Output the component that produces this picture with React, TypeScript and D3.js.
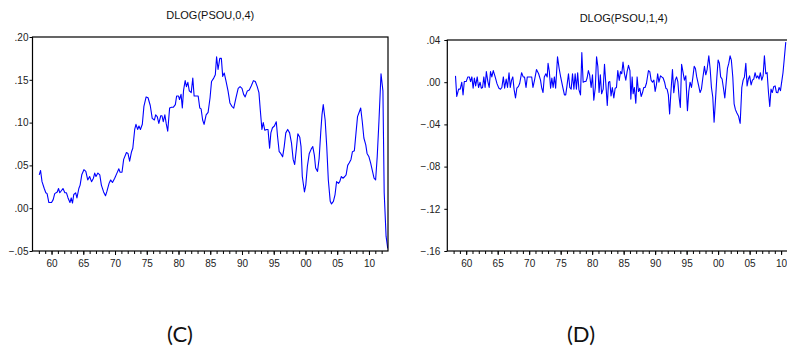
import React, { useEffect, useRef } from 'react';
import * as d3 from 'd3';

// DLOG(PSOU,0,4) (decimal year, value)
const leftYears = [
  1958.06, 1958.27, 1958.5, 1958.85, 1959.1, 1959.3, 1959.58, 1960.0, 1960.26, 1960.5,
  1960.9, 1961.1, 1961.3, 1961.6, 1961.8, 1962.1, 1962.35, 1962.6, 1962.9, 1963.1,
  1963.3, 1963.5, 1963.8, 1964.0, 1964.3, 1964.5, 1964.76, 1965.1, 1965.4, 1965.7,
  1966.0, 1966.3, 1966.6, 1966.8, 1967.0, 1967.3, 1967.6, 1967.85, 1968.2, 1968.5,
  1968.7, 1969.06, 1969.3, 1969.6, 1969.95, 1970.3, 1970.6, 1970.8, 1971.1, 1971.36,
  1971.8, 1972.04, 1972.3, 1972.6, 1972.8, 1973.1, 1973.3, 1973.56, 1973.77, 1974.0,
  1974.3, 1974.55, 1974.9, 1975.2, 1975.55, 1975.86, 1976.2, 1976.4, 1976.65, 1976.9,
  1977.2, 1977.4, 1977.6, 1977.85, 1978.06, 1978.3, 1978.6, 1978.9, 1979.2, 1979.5,
  1979.7, 1980.0, 1980.16, 1980.4, 1980.6, 1980.8, 1981.05, 1981.25, 1981.47, 1981.7,
  1982.0, 1982.25, 1982.46, 1982.8, 1983.1, 1983.35, 1983.56, 1983.8, 1984.03, 1984.35,
  1984.66, 1984.97, 1985.2, 1985.55, 1985.8, 1986.0, 1986.23, 1986.5, 1986.75, 1986.96,
  1987.2, 1987.5, 1987.8, 1988.1, 1988.4, 1988.7, 1989.05, 1989.4, 1989.7, 1990.0,
  1990.26, 1990.5, 1990.84, 1991.15, 1991.47, 1991.8, 1992.1, 1992.4, 1992.67, 1992.88,
  1993.14, 1993.35, 1993.6, 1993.9, 1994.1, 1994.35, 1994.55, 1994.8, 1995.1, 1995.4,
  1995.6, 1995.86, 1996.1, 1996.4, 1996.65, 1996.9, 1997.2, 1997.5, 1997.8, 1998.06,
  1998.3, 1998.6, 1998.8, 1999.1, 1999.3, 1999.5, 1999.84, 2000.05, 2000.3, 2000.6,
  2000.9, 2001.15, 2001.4, 2001.6, 2001.9, 2002.15, 2002.4, 2002.6, 2002.8, 2003.1,
  2003.35, 2003.6, 2003.9, 2004.1, 2004.4, 2004.66, 2004.9, 2005.2, 2005.4, 2005.65,
  2005.9, 2006.2, 2006.4, 2006.65, 2006.9, 2007.17, 2007.4, 2007.7, 2007.96, 2008.2,
  2008.4, 2008.7, 2008.95, 2009.2, 2009.5, 2009.7, 2010.0, 2010.26, 2010.5, 2010.8,
  2011.05, 2011.3, 2011.57, 2011.9, 2012.2, 2012.4, 2012.7, 2012.96
];
const leftValues = [
  0.039, 0.044, 0.031, 0.023, 0.018, 0.017, 0.0066, 0.0066, 0.010, 0.017,
  0.019, 0.023, 0.018, 0.021, 0.023, 0.018, 0.018, 0.012, 0.0066, 0.012,
  0.006, 0.016, 0.018, 0.012, 0.023, 0.027, 0.039, 0.045, 0.043, 0.033,
  0.037, 0.031, 0.035, 0.041, 0.037, 0.041, 0.039, 0.027, 0.019, 0.0145,
  0.019, 0.029, 0.033, 0.030, 0.035, 0.041, 0.046, 0.042, 0.042, 0.057,
  0.065, 0.064, 0.055, 0.066, 0.070, 0.092, 0.098, 0.092, 0.096, 0.092,
  0.098, 0.119, 0.130, 0.129, 0.120, 0.105, 0.103, 0.109, 0.107, 0.099,
  0.108, 0.108, 0.101, 0.109, 0.099, 0.090, 0.117, 0.118, 0.118, 0.121,
  0.131, 0.131, 0.127, 0.133, 0.117, 0.138, 0.149, 0.142, 0.147, 0.137,
  0.135, 0.152, 0.131, 0.131, 0.131, 0.117, 0.116, 0.103, 0.098, 0.109,
  0.112, 0.129, 0.148, 0.152, 0.156, 0.177, 0.162, 0.175, 0.175, 0.154,
  0.158, 0.148, 0.137, 0.123, 0.119, 0.117, 0.129, 0.140, 0.142, 0.140,
  0.133, 0.130, 0.137, 0.138, 0.143, 0.149, 0.148, 0.142, 0.135, 0.115,
  0.092, 0.100, 0.091, 0.092, 0.092, 0.070, 0.088, 0.094, 0.096, 0.101,
  0.084, 0.066, 0.064, 0.060, 0.072, 0.088, 0.092, 0.088, 0.076, 0.057,
  0.051, 0.072, 0.087, 0.083, 0.072, 0.037, 0.019, 0.027, 0.049, 0.064,
  0.069, 0.072, 0.062, 0.047, 0.043, 0.058, 0.088, 0.109, 0.121, 0.103,
  0.072, 0.033, 0.008, 0.005, 0.008, 0.016, 0.031, 0.029, 0.031, 0.037,
  0.035, 0.037, 0.039, 0.050, 0.053, 0.057, 0.066, 0.067, 0.088, 0.107,
  0.111, 0.117, 0.101, 0.082, 0.074, 0.064, 0.060, 0.053, 0.045, 0.035,
  0.033, 0.060, 0.101, 0.157, 0.137, 0.018, -0.033, -0.047
];

// DLOG(PSOU,1,4) (cropped at the page edge)
const rightYears = [
  1958.3, 1958.5, 1958.8, 1959.05, 1959.3, 1959.5, 1959.7, 1960.0, 1960.26, 1960.5,
  1960.7, 1960.9, 1961.1, 1961.3, 1961.5, 1961.75, 1961.96, 1962.2, 1962.4, 1962.6,
  1962.8, 1963.0, 1963.2, 1963.44, 1963.65, 1963.86, 1964.07, 1964.3, 1964.6, 1964.9,
  1965.2, 1965.45, 1965.66, 1965.9, 1966.1, 1966.35, 1966.56, 1966.8, 1967.0, 1967.2,
  1967.4, 1967.6, 1967.83, 1968.04, 1968.3, 1968.5, 1968.8, 1969.05, 1969.26, 1969.5,
  1969.7, 1969.95, 1970.16, 1970.4, 1970.6, 1970.85, 1971.16, 1971.5, 1971.8, 1972.0,
  1972.2, 1972.4, 1972.65, 1972.86, 1973.0, 1973.2, 1973.4, 1973.6, 1973.8, 1974.0,
  1974.2, 1974.5, 1974.76, 1975.03, 1975.34, 1975.6, 1975.8, 1976.0, 1976.24, 1976.45,
  1976.67, 1976.88, 1977.1, 1977.3, 1977.5, 1977.7, 1977.9, 1978.15, 1978.36, 1978.57,
  1978.8, 1979.0, 1979.2, 1979.4, 1979.6, 1979.84, 1980.05, 1980.26, 1980.5, 1980.7,
  1980.9, 1981.1, 1981.3, 1981.5, 1981.75, 1981.96, 1982.2, 1982.4, 1982.6, 1982.8,
  1983.0, 1983.2, 1983.44, 1983.65, 1983.86, 1984.07, 1984.3, 1984.5, 1984.7, 1984.9,
  1985.13, 1985.34, 1985.55, 1985.77, 1986.0, 1986.14, 1986.35, 1986.5, 1986.7, 1986.93,
  1987.14, 1987.35, 1987.56, 1987.78, 1988.0, 1988.2, 1988.4, 1988.62, 1988.94, 1989.15,
  1989.36, 1989.58, 1989.8, 1990.0, 1990.2, 1990.4, 1990.6, 1990.85, 1991.05, 1991.27,
  1991.5, 1991.7, 1991.9, 1992.1, 1992.3, 1992.5, 1992.75, 1992.96, 1993.2, 1993.4,
  1993.6, 1993.8, 1994.0, 1994.2, 1994.44, 1994.65, 1994.87, 1995.13, 1995.34, 1995.55,
  1995.77, 1996.0, 1996.2, 1996.4, 1996.6, 1996.88, 1997.14, 1997.35, 1997.57, 1997.83,
  1998.04, 1998.25, 1998.52, 1998.73, 1998.94, 1999.15, 1999.36, 1999.58, 1999.8, 2000.0,
  2000.2, 2000.4, 2000.63, 2000.85, 2001.06, 2001.27, 2001.48, 2001.7, 2001.9, 2002.1,
  2002.33, 2002.54, 2002.75, 2002.96, 2003.23, 2003.5, 2003.76, 2003.97, 2004.18, 2004.4,
  2004.6, 2004.8, 2005.0, 2005.24, 2005.45, 2005.66, 2005.87, 2006.08, 2006.3, 2006.5,
  2006.7, 2006.93, 2007.14, 2007.35, 2007.57, 2007.78, 2008.0, 2008.2, 2008.4, 2008.6,
  2008.84, 2009.05, 2009.26, 2009.47, 2009.68, 2009.9, 2010.1, 2010.3, 2010.5, 2010.74
];
const rightValues = [
  0.006, -0.0135, -0.0066, -0.0066, 0, -0.012, 0.0006, 0.0006, 0.005, 0.005,
  0.0006, 0.005, -0.0057, 0.004, -0.0035, 0.005, -0.005, 0, -0.0057, -0.005,
  0.005, -0.005, 0.010, 0.0006, -0.005, 0.010, 0.005, 0.011, 0.005, -0.0016,
  -0.0057, -0.0066, -0.005, 0.005, -0.0057, 0.003, -0.005, 0.009, -0.005, 0.002,
  0.005, -0.0066, -0.015, -0.0057, -0.004, -0.001, 0.009, 0.005, 0.005, -0.005,
  0.005, 0.005, 0.005, 0.005, -0.005, 0.002, 0.012, 0.008, 0.002, -0.0057,
  -0.0098, 0.005, 0.008, 0.005, 0.018, 0.010, -0.0057, 0.004, -0.005, 0.005,
  -0.0057, 0.024, 0.013, 0.004, -0.005, -0.012, -0.012, -0.0035, 0.008, -0.005,
  -0.0066, 0.008, -0.0066, 0.008, -0.0066, 0.009, -0.007, -0.012, 0.028, 0,
  0.0006, 0.0006, 0.004, 0.011, 0.007, -0.005, 0.007, -0.017, -0.005, 0.024,
  0.015, -0.0098, 0.007, -0.011, -0.0066, 0.017, -0.004, -0.022, 0, 0.0006,
  -0.013, -0.005, -0.015, -0.0057, -0.005, 0.011, 0.0016, 0.010, 0.008, 0.019,
  0.008, 0.002, 0.010, 0.016, 0.011, -0.016, 0.005, -0.011, -0.005, -0.020,
  0.005, -0.0088, -0.0057, -0.0135, -0.0098, -0.005, -0.005, -0.001, 0.011, 0.010,
  0.002, 0, 0.002, -0.0088, -0.0025, 0.008, 0, 0.006, 0.005, 0.004,
  0, -0.0057, -0.0066, -0.012, -0.030, -0.0098, 0.012, -0.010, 0.002, 0.005,
  0.0006, -0.014, -0.024, 0.017, 0.009, 0.002, 0.006, -0.027, -0.0088, 0,
  -0.005, 0.005, 0.015, 0.013, 0.005, -0.0025, -0.0098, -0.0066, 0.004, 0.015,
  0.007, 0.012, 0.025, 0.013, -0.005, -0.014, -0.038, -0.017, 0.005, 0.021,
  0.018, 0.005, 0.003, -0.0057, -0.015, -0.001, 0.013, 0.018, 0.025, 0.021,
  0.005, -0.0205, -0.026, -0.029, -0.032, -0.039, -0.005, 0.002, 0.005, 0.018,
  -0.0035, 0.003, 0.006, -0.0025, 0.002, 0.003, 0.009, 0.004, 0.006, 0.003,
  0.009, 0.002, 0.006, 0.025, 0.008, 0.009, -0.010, -0.023, -0.0066, -0.0098,
  -0.004, -0.0035, -0.0098, -0.010, -0.005, -0.008, 0.0006, 0.009, 0.022, 0.038
];

const leftYTicks = [-0.05, 0, 0.05, 0.1, 0.15, 0.2];
const rightYTicks = [-0.16, -0.12, -0.08, -0.04, 0, 0.04];
const xLabelYears = [1960, 1965, 1970, 1975, 1980, 1985, 1990, 1995, 2000, 2005, 2010];
const yearDomain: [number, number] = [1957, 2013];

const FONT = '"Liberation Sans", Arial, sans-serif';

interface PanelSpec {
  id: string;
  title: string;
  caption: string;
  years: number[];
  values: number[];
  yTicks: number[];
  left: number;
  right: number;
  top: number;
  bottom: number;
  titleY: number;
  labelPad: number;
}

const panels: PanelSpec[] = [
  {
    id: 'c', title: 'DLOG(PSOU,0,4)', caption: '(C)',
    years: leftYears, values: leftValues, yTicks: leftYTicks,
    left: 32.5, right: 388, top: 37, bottom: 251, titleY: 19, labelPad: 1
  },
  {
    id: 'd', title: 'DLOG(PSOU,1,4)', caption: '(D)',
    years: rightYears, values: rightValues, yTicks: rightYTicks,
    left: 447.3, right: 800, top: 40, bottom: 251, titleY: 22, labelPad: 4
  }
];

const fmtY = (v: number) => d3.format('.2f')(v).replace('0.', '.');
const fmtX = (v: number) => String(v % 100).padStart(2, '0');

const App: React.FC = () => {
  const svgRef = useRef<SVGSVGElement>(null);

  useEffect(() => {
    if (!svgRef.current) return;
    const svg = d3.select(svgRef.current);
    svg.selectAll('*').remove();

    svg.append('rect').attr('width', 787).attr('height', 354).attr('fill', '#fff');

    panels.forEach(p => {
      const yExtent = d3.extent(p.yTicks) as [number, number];
      const xScale = d3.scaleLinear().domain(yearDomain).range([p.left, p.right]);
      const yScale = d3.scaleLinear().domain(yExtent).range([p.bottom, p.top]);

      const g = svg.append('g');

      g.append('clipPath')
        .attr('id', `clip-${p.id}`)
        .append('rect')
        .attr('x', p.left)
        .attr('y', p.top)
        .attr('width', p.right - p.left)
        .attr('height', p.bottom - p.top);

      const pts = d3.zip(p.years, p.values) as [number, number][];
      const line = d3.line<[number, number]>()
        .x(d => xScale(d[0]))
        .y(d => yScale(d[1]));

      g.append('path')
        .datum(pts)
        .attr('fill', 'none')
        .attr('stroke', '#0000ff')
        .attr('stroke-width', 1.1)
        .attr('stroke-linejoin', 'round')
        .attr('clip-path', `url(#clip-${p.id})`)
        .attr('d', line);

      // y axis
      const yAxis = g.append('g')
        .attr('transform', `translate(${p.left},0)`)
        .call(d3.axisLeft(yScale).tickValues(p.yTicks).tickSize(3).tickPadding(p.labelPad).tickFormat(d => fmtY(+d)));
      yAxis.select('.domain').remove();
      yAxis.selectAll('line').attr('stroke', '#000');
      yAxis.selectAll('text')
        .style('font-family', FONT)
        .style('font-size', '10px')
        .style('fill', '#222');

      // yearly minor ticks
      const minor = g.append('g')
        .attr('transform', `translate(0,${p.bottom})`)
        .call(d3.axisBottom(xScale).tickValues(d3.range(yearDomain[0] + 1, yearDomain[1])).tickSize(3).tickFormat(() => ''));
      minor.select('.domain').remove();
      minor.selectAll('line').attr('stroke', '#000');

      // labelled years
      const xAxis = g.append('g')
        .attr('transform', `translate(0,${p.bottom})`)
        .call(d3.axisBottom(xScale).tickValues(xLabelYears).tickSize(4).tickPadding(5).tickFormat(d => fmtX(+d)));
      xAxis.select('.domain').remove();
      xAxis.selectAll('line').attr('stroke', '#000');
      xAxis.selectAll('text')
        .style('font-family', FONT)
        .style('font-size', '10px')
        .style('fill', '#222');

      // frame
      g.append('rect')
        .attr('x', p.left)
        .attr('y', p.top)
        .attr('width', p.right - p.left)
        .attr('height', p.bottom - p.top)
        .attr('fill', 'none')
        .attr('stroke', '#000')
        .attr('stroke-width', 1.2);

      // title
      g.append('text')
        .attr('x', (p.left + p.right) / 2)
        .attr('y', p.titleY)
        .attr('text-anchor', 'middle')
        .style('font-family', FONT)
        .style('font-size', '11px')
        .style('fill', '#111')
        .text(p.title);
    });

    // panel captions
    svg.selectAll('.caption')
      .data([{ x: 180, t: panels[0].caption }, { x: 581, t: panels[1].caption }])
      .enter()
      .append('text')
      .attr('class', 'caption')
      .attr('x', d => d.x)
      .attr('y', 342)
      .attr('text-anchor', 'middle')
      .style('font-family', 'Lato, "Open Sans", sans-serif')
      .style('font-size', '22px')
      .style('fill', '#111')
      .text(d => d.t);
  }, []);

  return (
    <svg
      ref={svgRef}
      width={787}
      height={354}
      style={{ position: 'absolute', left: 0, top: 0, display: 'block' }}
    />
  );
};

export default App;
